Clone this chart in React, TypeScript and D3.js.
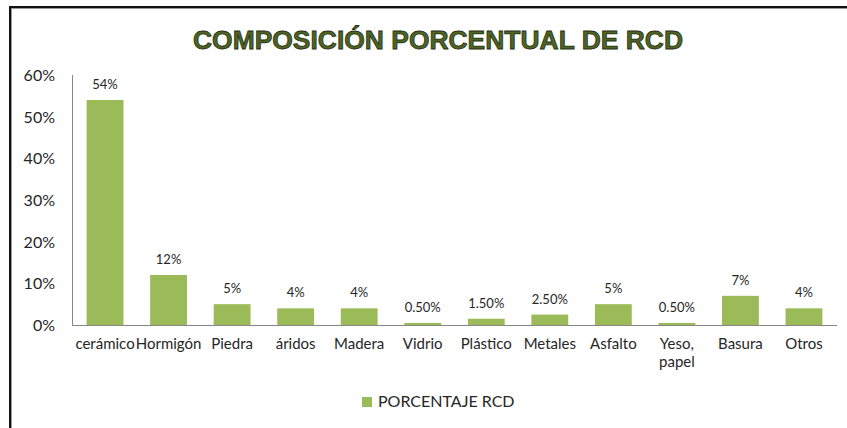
import { useMemo } from "react";
import * as d3 from "d3";

const WIDTH = 847;
const HEIGHT = 428;

const categories = [
  "cerámico",
  "Hormigón",
  "Piedra",
  "áridos",
  "Madera",
  "Vidrio",
  "Plástico",
  "Metales",
  "Asfalto",
  "Yeso, papel",
  "Basura",
  "Otros",
];
const percentages = [54, 12, 5, 4, 4, 0.5, 1.5, 2.5, 5, 0.5, 7, 4];
const yTicks = [0, 10, 20, 30, 40, 50, 60];

const seriesName = "PORCENTAJE RCD";
const chartTitle = "COMPOSICIÓN PORCENTUAL DE RCD";

const BAR_COLOR = "#9BBB59";
const AXIS_COLOR = "#868686";
const TEXT_COLOR = "#262626";
const FONT = "Lato, 'Open Sans', sans-serif";

const margin = { left: 72, right: 10, top: 75, bottom: 103 };

const fmt = (v: number) =>
  Number.isInteger(v) ? `${v}%` : `${v.toFixed(2)}%`;

export default function App() {
  const data = categories.map((name, i) => ({ name, value: percentages[i] }));

  const xScale = useMemo(
    () =>
      d3
        .scaleBand()
        .domain(categories)
        .range([margin.left, WIDTH - margin.right])
        .paddingInner(0.42)
        .paddingOuter(0.23),
    []
  );

  const yScale = useMemo(
    () =>
      d3
        .scaleLinear()
        .domain([0, 60])
        .range([HEIGHT - margin.bottom, margin.top]),
    []
  );

  const y0 = yScale(0);

  return (
    <svg
      width={WIDTH}
      height={HEIGHT}
      style={{ position: "absolute", left: 0, top: 0, display: "block", background: "#fff" }}
    >
      {/* frame (top and left edges only) */}
      <line x1={9} x2={WIDTH} y1={7} y2={7} stroke="#111" strokeWidth={2} />
      <line x1={11} x2={WIDTH} y1={8.5} y2={8.5} stroke="#999" strokeWidth={1} />
      <line x1={10} x2={10} y1={6} y2={HEIGHT} stroke="#111" strokeWidth={2} />
      <line x1={11.5} x2={11.5} y1={8} y2={HEIGHT} stroke="#999" strokeWidth={1} />

      <text
        x={438}
        y={49}
        textAnchor="middle"
        fontFamily="'Liberation Sans', Arial, sans-serif"
        fontWeight="bold"
        fontSize={26}
        textLength={490}
        lengthAdjust="spacingAndGlyphs"
        fill="#4F6228"
        stroke="#26330f"
        strokeWidth={0.8}
      >
        {chartTitle}
      </text>

      {/* y axis */}
      <line
        x1={margin.left + 0.5}
        x2={margin.left + 0.5}
        y1={yScale(60)}
        y2={y0}
        stroke={AXIS_COLOR}
      />
      {yTicks.map((t) => (
        <text
          key={t}
          x={55}
          y={yScale(t) + 6}
          textAnchor="end"
          fontFamily={FONT}
          fontSize={16}
          fill={TEXT_COLOR}
        >
          {t}%
        </text>
      ))}

      {/* bars */}
      {data.map((d) => {
        const x = xScale(d.name) ?? 0;
        const yTop = yScale(d.value);
        return (
          <g key={d.name}>
            <rect
              x={x}
              y={yTop}
              width={xScale.bandwidth()}
              height={y0 - yTop}
              fill={BAR_COLOR}
            />
            <text
              x={x + xScale.bandwidth() / 2}
              y={yTop - 11}
              textAnchor="middle"
              fontFamily={FONT}
              fontSize={13}
              fill={TEXT_COLOR}
            >
              {fmt(d.value)}
            </text>
          </g>
        );
      })}

      {/* baseline */}
      <line
        x1={margin.left}
        x2={WIDTH - margin.right}
        y1={y0 + 0.5}
        y2={y0 + 0.5}
        stroke={AXIS_COLOR}
      />

      {/* category labels */}
      {categories.map((c) => {
        const cx = (xScale(c) ?? 0) + xScale.bandwidth() / 2;
        const lines = c.includes(", ") ? c.replace(", ", ",\n").split("\n") : [c];
        return (
          <text
            key={c}
            x={cx}
            y={349}
            textAnchor="middle"
            fontFamily={FONT}
            fontSize={15}
            fill={TEXT_COLOR}
          >
            {lines.map((l, i) => (
              <tspan key={i} x={cx} dy={i === 0 ? 0 : 18}>
                {l}
              </tspan>
            ))}
          </text>
        );
      })}

      {/* legend */}
      <rect x={362} y={397} width={10} height={10} fill={BAR_COLOR} />
      <text x={378} y={407} fontFamily={FONT} fontSize={16} fill={TEXT_COLOR}>
        {seriesName}
      </text>
    </svg>
  );
}
